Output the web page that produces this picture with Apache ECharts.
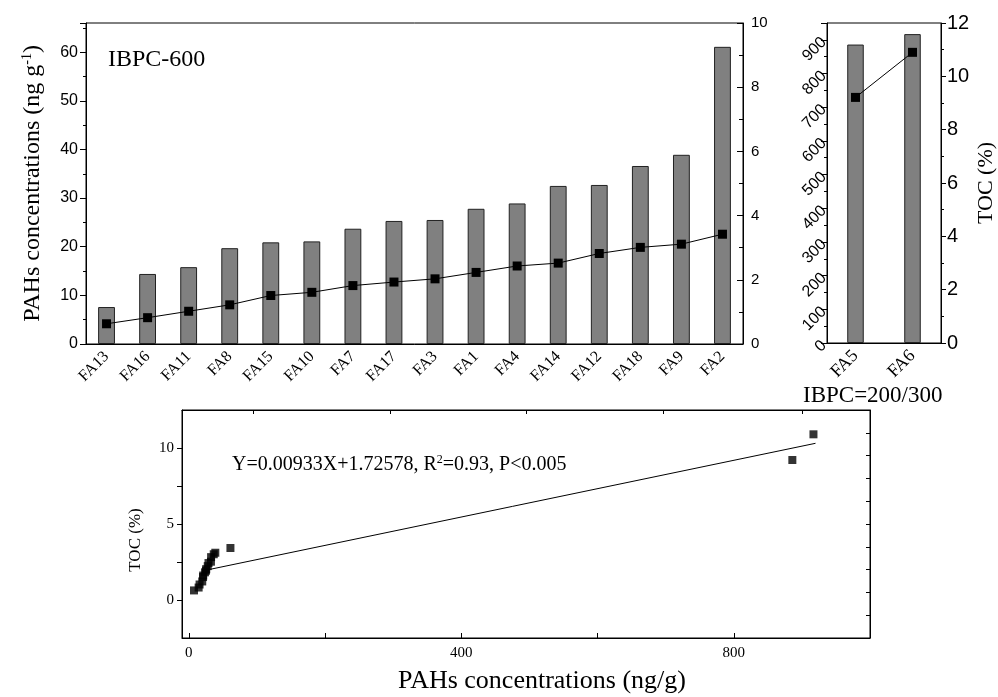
<!DOCTYPE html>
<html>
<head>
<meta charset="utf-8">
<script src="https://cdn.jsdelivr.net/npm/echarts@6/dist/echarts.min.js"></script>
<style>
  html, body { margin: 0; padding: 0; background: #fff; }
  #main { width: 998px; height: 697px; }
</style>
</head>
<body>
<div id="main"></div>
<script>
// IBPC-600 samples, sorted by PAHs
const categories600 = ['FA13', 'FA16', 'FA11', 'FA8', 'FA15', 'FA10', 'FA7', 'FA17', 'FA3', 'FA1', 'FA4', 'FA14', 'FA12', 'FA18', 'FA9', 'FA2'];
const pahs600 = [7.6, 14.4, 15.8, 19.7, 20.9, 21.1, 23.7, 25.3, 25.5, 27.8, 28.9, 32.5, 32.7, 36.6, 38.9, 61.1];
const toc600 = [0.63, 0.82, 1.02, 1.22, 1.51, 1.61, 1.82, 1.93, 2.03, 2.23, 2.43, 2.52, 2.82, 3.01, 3.11, 3.42];

// IBPC=200/300 samples
const categoriesHigh = ['FA5', 'FA6'];
const pahsHigh = [886, 917];
const tocHigh = [9.21, 10.9];

// regression line (from the equation in the figure)
const fitSlope = 0.00933;
const fitIntercept = 1.72578;
const fitRange = [30, 920];

const serif = 'Liberation Serif';
const sans = 'Liberation Sans';
const barColor = '#808080';

const scatterData = pahs600.map((v, i) => [v, toc600[i]])
  .concat(pahsHigh.map((v, i) => [v, tocHigh[i]]));
const fitData = fitRange.map(x => [x, fitSlope * x + fitIntercept]);

const chart = echarts.init(document.getElementById('main'));

const option = {
  animation: false,
  grid: [
    { left: 86, top: 23, width: 657, height: 321, show: true, borderColor: '#000', borderWidth: 1 },
    { left: 827, top: 23, width: 125, height: 320, show: true, borderColor: '#000', borderWidth: 1 },
    { left: 182, top: 410, width: 688, height: 228, show: true, borderColor: '#000', borderWidth: 1 }
  ],
  xAxis: [
    {
      type: 'category', gridIndex: 0, data: categories600,
      axisLine: { lineStyle: { color: '#000' } },
      axisTick: { show: false },
      axisLabel: { rotate: 45, fontFamily: serif, fontSize: 16, color: '#000', margin: 10 }
    },
    {
      type: 'category', gridIndex: 1, data: categoriesHigh,
      axisLine: { lineStyle: { color: '#000' } },
      axisTick: { show: false },
      axisLabel: { rotate: 45, fontFamily: serif, fontSize: 18, color: '#000', margin: 10 }
    },
    {
      type: 'value', gridIndex: 2, min: -10, max: 1000,
      name: 'PAHs concentrations (ng/g)', nameLocation: 'middle', nameGap: 30,
      nameTextStyle: { fontFamily: serif, fontSize: 26, color: '#000', padding: [0, 0, 0, 32] },
      axisLine: { onZero: false, lineStyle: { color: '#000' } },
      axisTick: { inside: true, length: 5, customValues: [0, 200, 400, 600, 800, 1000], lineStyle: { color: '#000' } },
      axisLabel: { customValues: [0, 400, 800], fontFamily: serif, fontSize: 15, color: '#000', margin: 8 },
      splitLine: { show: false }
    },
    {
      type: 'value', gridIndex: 2, min: -10, max: 1000, position: 'top',
      axisLine: { onZero: false, lineStyle: { color: '#000' } },
      axisTick: { inside: true, length: 4, customValues: [95, 295, 495, 697, 900], lineStyle: { color: '#000' } },
      axisLabel: { show: false },
      splitLine: { show: false }
    }
  ],
  yAxis: [
    {
      type: 'value', gridIndex: 0, min: 0, max: 66, interval: 10,
      name: 'PAHs concentrations (ng g{sup|-1})', nameLocation: 'middle', nameGap: 40, nameRotate: 90,
      nameTextStyle: {
        fontFamily: serif, fontSize: 24, color: '#000',
        rich: { sup: { fontFamily: serif, fontSize: 14, color: '#000', verticalAlign: 'top', padding: [0, 0, 12, 0] } }
      },
      axisLine: { show: true, lineStyle: { color: '#000' } },
      axisTick: { show: true, length: 6, lineStyle: { color: '#000' } },
      minorTick: { show: true, splitNumber: 2, length: 3, lineStyle: { color: '#000' } },
      axisLabel: { showMaxLabel: false, fontFamily: sans, fontSize: 16, color: '#000', margin: 8 },
      splitLine: { show: false }
    },
    {
      type: 'value', gridIndex: 0, min: 0, max: 10, interval: 2, position: 'right',
      axisLine: { show: true, lineStyle: { color: '#000' } },
      axisTick: { show: true, inside: true, length: 6, lineStyle: { color: '#000' } },
      minorTick: { show: true, splitNumber: 2, length: 4, lineStyle: { color: '#000' } },
      axisLabel: { fontFamily: sans, fontSize: 15, color: '#000', margin: 8 },
      splitLine: { show: false }
    },
    {
      type: 'value', gridIndex: 1, min: 0, max: 950, interval: 100,
      axisLine: { show: true, lineStyle: { color: '#000' } },
      axisTick: { show: true, length: 6, lineStyle: { color: '#000' } },
      minorTick: { show: true, splitNumber: 2, length: 3, lineStyle: { color: '#000' } },
      axisLabel: { showMaxLabel: false, rotate: 45, fontFamily: sans, fontSize: 16, color: '#000', margin: 3 },
      splitLine: { show: false }
    },
    {
      type: 'value', gridIndex: 1, min: 0, max: 12, interval: 2, position: 'right',
      name: 'TOC (%)', nameLocation: 'middle', nameGap: 34, nameRotate: 90,
      nameTextStyle: { fontFamily: serif, fontSize: 22, color: '#000' },
      axisLine: { show: true, lineStyle: { color: '#000' } },
      axisTick: { show: true, length: 5, lineStyle: { color: '#000' } },
      minorTick: { show: true, splitNumber: 2, length: 3, lineStyle: { color: '#000' } },
      axisLabel: { fontFamily: sans, fontSize: 20, color: '#000', margin: 6 },
      splitLine: { show: false }
    },
    {
      type: 'value', gridIndex: 2, min: -2.5, max: 12.5,
      name: 'TOC (%)', nameLocation: 'middle', nameGap: 38, nameRotate: 90,
      nameTextStyle: { fontFamily: serif, fontSize: 17, color: '#000', padding: [0, 32, 0, 0] },
      axisLine: { show: true, onZero: false, lineStyle: { color: '#000' } },
      axisTick: { show: true, length: 5, customValues: [0, 2.5, 5, 7.5, 10], lineStyle: { color: '#000' } },
      axisLabel: { customValues: [0, 5, 10], fontFamily: serif, fontSize: 15, color: '#000', margin: 8 },
      splitLine: { show: false }
    },
    {
      type: 'value', gridIndex: 2, min: -2.5, max: 12.5, position: 'right',
      axisLine: { show: true, onZero: false, lineStyle: { color: '#000' } },
      axisTick: { show: true, inside: true, length: 4, customValues: [-1, 0.5, 2, 3.5, 5, 6.5, 8, 9.5, 11], lineStyle: { color: '#000' } },
      axisLabel: { show: false },
      splitLine: { show: false }
    }
  ],
  series: [
    {
      type: 'bar', xAxisIndex: 0, yAxisIndex: 0, data: pahs600, barWidth: '41%',
      itemStyle: { color: barColor, borderColor: '#222', borderWidth: 1 }
    },
    {
      type: 'line', xAxisIndex: 0, yAxisIndex: 1, data: toc600,
      symbol: 'rect', symbolSize: 9,
      itemStyle: { color: '#000' }, lineStyle: { color: '#000', width: 1 }
    },
    {
      type: 'bar', xAxisIndex: 1, yAxisIndex: 2, data: pahsHigh, barWidth: '29%',
      itemStyle: { color: barColor, borderColor: '#222', borderWidth: 1 }
    },
    {
      type: 'line', xAxisIndex: 1, yAxisIndex: 3, data: tocHigh,
      symbol: 'rect', symbolSize: 9,
      itemStyle: { color: '#000' }, lineStyle: { color: '#000', width: 1 }
    },
    {
      type: 'scatter', xAxisIndex: 2, yAxisIndex: 4, data: scatterData,
      symbol: 'rect', symbolSize: 8, itemStyle: { color: '#000' }
    },
    {
      type: 'line', xAxisIndex: 2, yAxisIndex: 4, data: fitData,
      symbol: 'none', lineStyle: { color: '#000', width: 1 }
    }
  ],
  graphic: [
    {
      type: 'text', left: 108, top: 48,
      style: { text: 'IBPC-600', font: '24px "Liberation Serif"', fill: '#000' }
    },
    {
      type: 'text', left: 803, top: 384,
      style: { text: 'IBPC=200/300', font: '23px "Liberation Serif"', fill: '#000' }
    },
    {
      type: 'text', left: 232, top: 454,
      style: {
        text: 'Y=0.00933X+1.72578, R{sup|2}=0.93, P<0.005',
        font: '20px "Liberation Serif"', fill: '#000',
        rich: { sup: { font: '12px "Liberation Serif"', fill: '#000', verticalAlign: 'top', padding: [0, 0, 10, 0] } }
      }
    }
  ]
};

chart.setOption(option);
</script>
</body>
</html>
